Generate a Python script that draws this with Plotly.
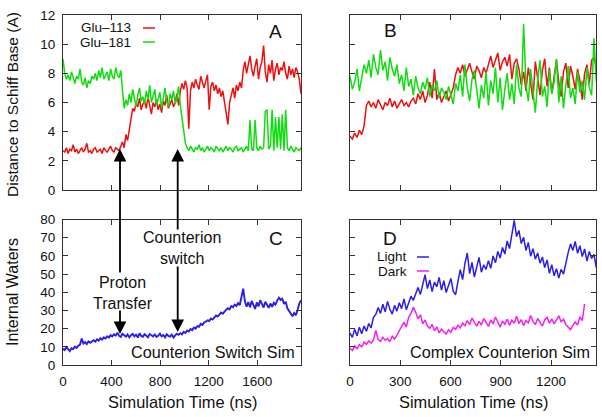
import numpy as np
import plotly.graph_objects as go

# ---------------- data ----------------
dt_ns = 14  # sampling interval of the listed values (ns)

glu113_counterion = [
    2.7,2.6,2.9,2.5,2.8,2.7,3.1,2.6,2.8,2.5,2.7,2.9,2.6,2.8,3.2,2.6,2.7,2.5,2.8,2.9,2.6,2.7,2.8,2.5,2.9,2.7,2.6,2.8,3.0,2.7,2.6,2.9,2.8,2.7,
    3.0,3.3,2.9,3.8,3.4,4.1,
    5.0,5.6,
    5.4,6.0,5.7,6.3,5.5,5.9,6.1,5.6,6.4,5.8,5.2,6.0,5.7,6.2,5.5,5.9,5.3,6.1,5.8,6.5,5.6,5.9,6.2,5.7,6.0,6.6,5.8,
    6.8,7.3,6.9,7.5,
    7.0,4.2,
    6.8,7.4,7.0,7.6,7.2,6.9,7.8,7.3,7.0,7.5,7.9,
    5.5,7.1,
    7.4,6.8,7.2,6.6,7.0,6.4,6.8,6.1,
    5.2,4.5,6.0,
    6.6,7.0,6.3,7.2,6.8,
    7.4,7.0,
    8.2,8.8,8.0,
    8.6,9.2,8.3,7.8,8.5,9.0,7.6,8.4,8.8,9.9,8.1,7.4,8.6,8.0,8.9,7.5,8.3,8.7,7.9,8.4,8.2,8.8,
    8.0,7.6,8.5,7.9,8.3,7.7,8.4,8.1,7.6,6.6,
]
glu181_counterion = [
    9.0,8.0,7.6,7.9,7.5,8.1,7.7,7.3,7.8,7.6,8.3,7.4,7.2,7.7,7.0,7.5,7.3,7.8,7.6,8.0,7.5,8.2,7.7,8.4,7.6,7.9,8.1,7.5,8.3,7.8,7.6,8.4,7.9,7.7,8.2,
    6.8,5.6,
    6.2,5.8,6.6,6.0,6.9,6.3,5.7,6.5,7.0,6.1,6.4,5.9,6.8,6.2,7.2,6.0,6.5,6.9,5.8,6.3,6.7,5.6,6.4,7.0,6.1,5.7,6.6,6.2,6.8,5.9,6.3,7.1,
    5.8,4.8,3.9,3.2,
    2.9,2.7,3.0,2.8,2.6,2.9,2.8,3.1,2.7,2.9,2.6,2.8,3.0,2.7,2.9,2.8,2.6,3.0,2.8,2.7,2.9,2.6,2.8,3.0,2.7,2.9,2.8,2.6,2.9,3.0,2.7,2.8,2.9,2.6,2.8,3.0,2.7,
    4.8,2.8,2.7,4.8,2.9,2.7,3.0,2.8,2.9,5.4,5.5,2.8,3.0,5.5,2.7,5.0,2.9,5.0,2.8,5.2,2.7,5.5,
    2.9,2.7,3.0,2.8,2.6,2.9,2.8,2.7,2.9,
]
glu113_complex = [
    3.7,3.5,3.9,3.6,4.1,3.8,4.4,
    5.8,
    6.1,5.7,6.0,5.6,6.2,5.9,5.5,6.0,5.8,6.3,5.7,6.1,5.6,5.9,6.2,5.8,6.0,5.7,6.1,
    6.3,5.9,6.6,6.2,6.8,6.0,6.5,7.4,6.3,8.3,6.2,6.7,6.0,6.4,6.8,6.1,6.5,7.0,
    7.9,8.4,8.0,8.6,7.8,8.3,8.7,8.1,7.6,8.5,8.2,7.7,8.4,8.0,
    8.6,9.2,8.4,8.9,9.4,8.2,8.8,9.1,8.5,9.3,7.6,8.7,9.0,8.3,7.2,8.1,
    6.8,8.4,7.2,6.2,8.8,7.5,6.5,8.2,9.0,7.1,8.4,6.6,7.8,8.9,7.4,6.4,8.1,8.7,7.0,8.5,7.8,6.9,8.3,7.5,6.2,8.0,8.6,7.3,8.9,9.1,8.4,
]
glu181_complex = [
    7.8,6.9,7.4,8.3,6.8,7.6,8.6,
    8.0,8.9,7.7,9.3,8.4,7.9,9.6,8.2,8.8,7.5,9.1,8.3,7.8,8.6,
    7.3,7.9,6.8,8.4,7.1,7.6,6.5,7.8,7.0,6.6,7.4,6.9,7.7,6.4,7.2,6.8,7.5,6.3,7.0,6.7,
    6.2,7.1,6.5,5.9,7.3,6.8,7.9,6.4,8.6,7.0,6.1,7.6,8.2,6.7,5.6,
    7.2,6.3,8.1,5.8,7.5,6.6,8.4,6.0,7.7,5.5,6.9,8.0,6.2,7.3,5.9,8.6,7.0,6.4,11.4,7.2,
    6.1,8.3,6.8,5.3,7.6,8.9,6.4,7.1,5.7,8.2,6.6,7.4,9.0,6.0,7.8,5.6,7.2,8.5,6.3,7.0,5.9,8.1,6.7,7.5,6.2,8.4,7.0,6.5,10.4,7.4,
]
waters_switch = [
    9.0,8.2,9.8,8.5,7.6,9.2,8.8,10.1,9.4,10.6,11.2,
    14.5,
    11.8,12.6,11.5,13.0,12.2,12.9,13.6,12.8,14.1,13.4,14.7,13.9,15.2,
    14.6,15.8,15.1,16.4,15.7,16.9,16.2,17.8,16.0,15.4,17.2,16.3,
    15.6,16.8,15.2,16.4,17.1,15.8,16.6,15.1,17.4,16.0,15.5,16.9,16.2,15.3,17.0,16.4,15.7,16.8,15.4,16.1,17.3,15.8,16.5,15.2,16.9,16.0,15.6,16.7,15.1,16.3,17.2,
    16.6,17.5,16.8,18.2,17.6,19.0,18.4,19.8,19.2,20.6,20.0,21.4,21.0,22.6,22.0,23.4,23.8,24.6,
    24.2,25.6,25.0,26.4,27.2,26.6,28.0,28.8,28.2,29.6,30.4,31.2,30.6,32.4,31.8,33.2,32.4,34.0,
    33.0,37.5,42.0,35.0,32.0,
    34.6,31.8,35.2,33.0,30.8,34.4,32.2,35.6,33.4,31.6,34.8,32.6,31.4,33.8,32.0,34.2,33.2,
    35.4,37.0,35.8,36.4,33.6,34.8,31.2,
    29.6,28.2,26.8,28.6,27.4,30.2,33.8,35.6,
]
waters_light = [
    17.5,15.2,19.6,16.0,20.8,17.2,21.4,
    18.6,22.8,20.4,26.2,
    27.8,31.6,28.4,33.4,29.2,35.0,30.6,28.0,32.8,29.6,34.2,31.0,36.4,30.4,
    34.2,37.8,35.6,39.4,42.6,38.8,44.2,
    49.6,42.0,46.8,40.4,45.6,43.0,48.2,41.2,46.4,39.8,44.0,47.6,40.6,38.6,
    45.8,52.4,47.0,55.8,61.6,50.2,56.4,48.4,53.8,59.2,51.0,55.0,52.6,
    57.4,53.2,60.0,56.2,62.4,58.8,64.6,61.0,
    68.2,64.0,72.4,79.5,70.6,74.0,
    66.8,70.2,63.0,67.4,59.8,64.0,58.2,61.6,56.0,59.4,
    53.6,57.8,50.4,55.2,49.0,53.0,47.8,52.6,50.0,56.8,
    61.8,66.6,63.0,68.0,61.4,65.6,59.6,63.8,57.2,62.4,58.6,60.8,53.4,
]
waters_dark = [
    9.2,8.0,10.4,9.0,11.2,10.0,12.6,
    11.4,13.2,12.0,13.8,
    19.0,
    14.0,13.0,15.2,13.6,14.6,12.8,15.8,14.2,16.4,18.6,21.0,
    23.6,20.8,26.2,28.4,31.8,29.0,
    25.4,27.6,22.6,24.8,21.4,
    20.2,22.4,18.8,21.0,17.6,19.8,18.2,17.0,19.4,18.0,20.6,
    19.6,21.8,20.4,23.0,21.6,24.4,22.2,25.8,23.2,21.4,24.0,
    22.0,25.6,23.4,21.2,24.8,22.6,26.4,23.6,20.8,24.2,22.4,25.2,21.8,24.6,23.0,26.8,22.8,25.0,21.6,24.4,
    23.2,27.2,24.0,22.2,25.6,23.4,21.4,24.8,26.2,23.0,25.4,22.6,24.6,27.0,23.8,25.2,22.2,20.6,19.4,21.8,
    23.6,22.0,26.4,24.4,33.6,
]

ticks_switch = [0, 400, 800, 1200, 1600]
ticks_complex = [0, 300, 600, 900, 1200]
ticks_dist = [0, 2, 4, 6, 8, 10, 12]
ticks_waters = [0, 10, 20, 30, 40, 50, 60, 70, 80]

def times(vals):
    return np.arange(len(vals)) * dt_ns

# ---------------- figure ----------------
W, H = 602, 417
FONT = "Liberation Sans, Arial, Helvetica, sans-serif"
RED, GREEN, BLUE, MAGENTA = "#ee1010", "#10dd10", "#2a1ee8", "#f41ff0"

def px(x):
    return x / W

def py(y):
    return 1 - y / H

fig = go.Figure()
lw = 1.5
fig.add_trace(go.Scatter(x=times(glu113_counterion), y=glu113_counterion, mode="lines",
                         line=dict(color=RED, width=lw), xaxis="x", yaxis="y"))
fig.add_trace(go.Scatter(x=times(glu181_counterion), y=glu181_counterion, mode="lines",
                         line=dict(color=GREEN, width=lw), xaxis="x", yaxis="y"))
fig.add_trace(go.Scatter(x=times(glu113_complex), y=glu113_complex, mode="lines",
                         line=dict(color=RED, width=lw), xaxis="x2", yaxis="y2"))
fig.add_trace(go.Scatter(x=times(glu181_complex), y=glu181_complex, mode="lines",
                         line=dict(color=GREEN, width=lw), xaxis="x2", yaxis="y2"))
fig.add_trace(go.Scatter(x=times(waters_switch), y=waters_switch, mode="lines",
                         line=dict(color=BLUE, width=1.9), xaxis="x3", yaxis="y3"))
fig.add_trace(go.Scatter(x=times(waters_light), y=waters_light, mode="lines",
                         line=dict(color=BLUE, width=lw), xaxis="x4", yaxis="y4"))
fig.add_trace(go.Scatter(x=times(waters_dark), y=waters_dark, mode="lines",
                         line=dict(color=MAGENTA, width=lw), xaxis="x4", yaxis="y4"))

axcommon = dict(showline=True, linecolor="#333", linewidth=1, mirror="ticks", ticks="inside",
                ticklen=5, tickwidth=1, tickcolor="#333", showgrid=False, zeroline=False,
                automargin=False,
                tickfont=dict(family=FONT, size=13.5, color="#111"), fixedrange=True)

xdomL = [px(63), px(301)]
xdomR = [px(350), px(596)]
ydomT = [py(190), py(15)]
ydomB = [py(365), py(219.5)]

fig.update_layout(
    width=W, height=H, margin=dict(l=0, r=0, t=0, b=0, autoexpand=False),
    paper_bgcolor="white", plot_bgcolor="white", showlegend=False,
    xaxis=dict(domain=xdomL, anchor="y", range=[0, 1960], tickvals=ticks_switch,
               showticklabels=False, **axcommon),
    yaxis=dict(domain=ydomT, anchor="x", range=[0, 12], tickvals=ticks_dist,
               ticklabelstandoff=4, **axcommon),
    xaxis2=dict(domain=xdomR, anchor="y2", range=[0, 1468], tickvals=ticks_complex,
                showticklabels=False, **axcommon),
    yaxis2=dict(domain=ydomT, anchor="x2", range=[0, 12], tickvals=ticks_dist,
                showticklabels=False, **axcommon),
    xaxis3=dict(domain=xdomL, anchor="y3", range=[0, 1960], tickvals=ticks_switch,
                ticklabelstandoff=4, **axcommon),
    yaxis3=dict(domain=ydomB, anchor="x3", range=[0, 80], tickvals=ticks_waters,
                ticklabelstandoff=4, **axcommon),
    xaxis4=dict(domain=xdomR, anchor="y4", range=[0, 1468], tickvals=ticks_complex,
                ticklabelstandoff=4, **axcommon),
    yaxis4=dict(domain=ydomB, anchor="x4", range=[0, 80], tickvals=ticks_waters,
                showticklabels=False, **axcommon),
)

def text(x, y, s, size=14, xanchor="center", yanchor="middle", angle=0, align="center"):
    fig.add_annotation(x=px(x), y=py(y), xref="paper", yref="paper", text=s, showarrow=False,
                       xanchor=xanchor, yanchor=yanchor, textangle=angle, align=align,
                       borderpad=0,
                       font=dict(family=FONT, size=size, color="#111"))

def arrow(x, ytip, ytail):
    fig.add_annotation(x=px(x), y=py(ytip), xref="paper", yref="paper", text="",
                       showarrow=True, ax=0, ay=ytail - ytip, axref="pixel", ayref="pixel",
                       arrowhead=2, arrowsize=1.4, arrowwidth=1.8, arrowcolor="#000", standoff=0)

# axis titles
text(12, 105, "Distance to Schiff Base (A)", size=15.5, angle=-90)
text(12, 292, "Internal Waters", size=16, angle=-90)
text(182, 402, "Simulation Time (ns)", size=16.4)
text(473, 402, "Simulation Time (ns)", size=16.4)

# panel letters
text(275, 32, "A", size=19)
text(390, 30, "B", size=19)
text(276, 238, "C", size=19)
text(390, 238, "D", size=19)

# legends
text(132, 27.5, "Glu\u2013113", size=13.5, xanchor="right")
text(132, 42.5, "Glu\u2013181", size=13.5, xanchor="right")
text(408, 256.5, "Light", size=13.5, xanchor="right")
text(408, 271.5, "Dark", size=13.5, xanchor="right")
for (x0, x1, y, c) in [(143, 155, 28, RED), (143, 155, 42, GREEN), (417, 429, 257, BLUE), (417, 429, 271, MAGENTA)]:
    fig.add_shape(type="line", xref="paper", yref="paper", x0=px(x0), x1=px(x1), y0=py(y), y1=py(y),
                  line=dict(color=c, width=1.5))

# captions
text(296, 352, "Counterion Switch Sim", size=16.2, xanchor="right")
text(591, 352, "Complex Counterion Sim", size=16.2, xanchor="right")
text(123, 293, "Proton<br>Transfer", size=16)
text(182, 248, "Counterion<br>switch", size=16)

# arrows
arrow(120, 149, 274)
arrow(120, 334, 309)
arrow(177.7, 149, 231)
arrow(177.7, 332, 265)

fig.write_html("out.html", config={"displayModeBar": False, "staticPlot": True},
               post_script="document.body.style.margin='0';document.body.style.padding='0';"
                           "document.body.style.overflow='hidden';")
